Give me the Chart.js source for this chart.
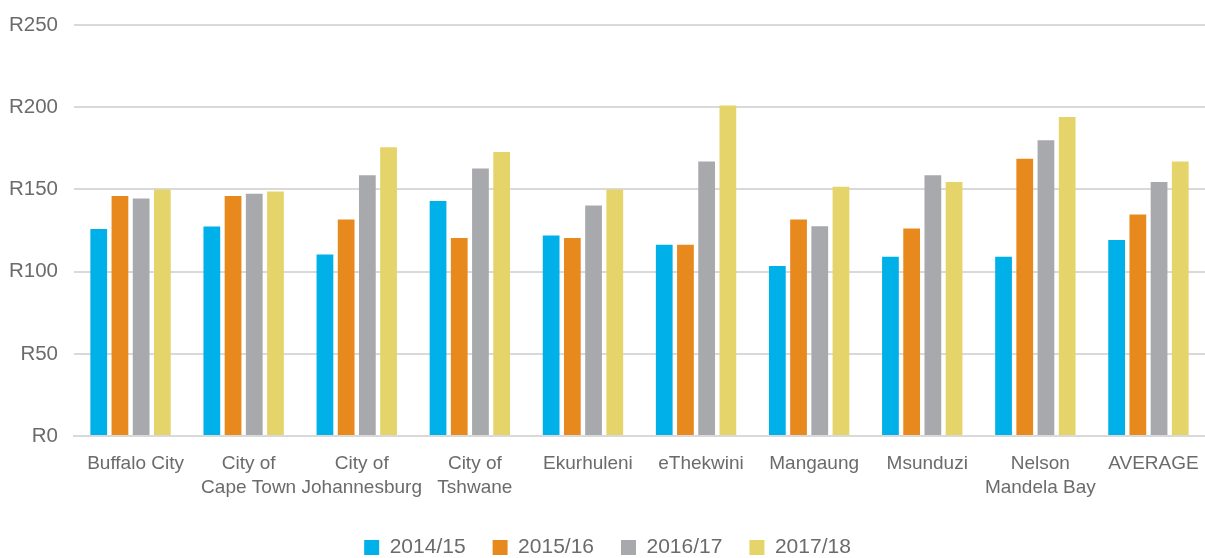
<!DOCTYPE html>
<html>
<head>
<meta charset="utf-8">
<script src="https://cdn.jsdelivr.net/npm/chart.js@4/dist/chart.umd.min.js"></script>
<style>
html,body{margin:0;padding:0;background:#fff;}
#wrap{width:1205px;height:558px;position:relative;}
</style>
</head>
<body>
<div id="wrap"><canvas id="c"></canvas></div>
<script>
const categories = [
  "Buffalo City",
  ["City of", "Cape Town"],
  ["City of", "Johannesburg"],
  ["City of", "Tshwane"],
  "Ekurhuleni",
  "eThekwini",
  "Mangaung",
  "Msunduzi",
  ["Nelson", "Mandela Bay"],
  "AVERAGE"
];
const seriesNames = ["2014/15", "2015/16", "2016/17", "2017/18"];
const v2014 = [126, 127.4, 110.5, 143, 122, 116.3, 103.5, 109, 109, 119.3];
const v2015 = [146, 146, 131.7, 120.5, 120.5, 116.3, 131.7, 126.2, 168.7, 134.8];
const v2016 = [144.5, 147.4, 158.7, 162.8, 140.2, 167, 127.6, 158.7, 179.9, 154.5];
const v2017 = [150, 148.8, 175.6, 172.7, 150, 201, 151.6, 154.5, 194, 167];
const yTicks = [0, 50, 100, 150, 200, 250];
const colors = ["#00b0e8", "#e8891e", "#a8a9ad", "#e5d46a"];

const allValues = [v2014, v2015, v2016, v2017];
const datasets = seriesNames.map((n, i) => ({
  label: n,
  data: allValues[i],
  backgroundColor: colors[i],
  borderWidth: 0,
  categoryPercentage: 0.75,
  barPercentage: 0.79
}));

const FONT = 'Liberation Sans, Arial, sans-serif';

new Chart(document.getElementById('c'), {
  type: 'bar',
  data: { labels: categories, datasets },
  options: {
    responsive: true,
    maintainAspectRatio: false,
    animation: false,
    layout: { padding: { left: 10, right: 0, top: 25, bottom: -10 } },
    plugins: {
      tooltip: { enabled: false },
      legend: {
        position: 'bottom',
        labels: {
          boxWidth: 15,
          boxHeight: 15,
          padding: 27,
          color: '#6b6b6b',
          font: { family: FONT, size: 21 }
        }
      }
    },
    scales: {
      x: {
        grid: { display: false, drawTicks: false },
        border: { display: true, color: '#d9d9d9', width: 2 },
        ticks: {
          color: '#6b6b6b',
          padding: 16,
          labelOffset: 5,
          maxRotation: 0,
          autoSkip: false,
          font: { family: FONT, size: 19, lineHeight: 1.26 }
        },
        afterFit: (scale) => { scale.height -= 6; scale.paddingLeft = 0; scale.paddingRight = 0; }
      },
      y: {
        min: 0,
        max: 250,
        afterBuildTicks: (axis) => { axis.ticks = yTicks.map(v => ({ value: v })); },
        afterFit: (axis) => { axis.width = 64; axis.paddingTop = 0; axis.paddingBottom = 0; },
        grid: { color: '#d9d9d9', lineWidth: 2, drawTicks: false },
        border: { display: false },
        ticks: {
          color: '#6b6b6b',
          padding: 16,
          font: { family: FONT, size: 20.5 },
          callback: (v) => 'R' + v
        }
      }
    }
  }
});
</script>
</body>
</html>
